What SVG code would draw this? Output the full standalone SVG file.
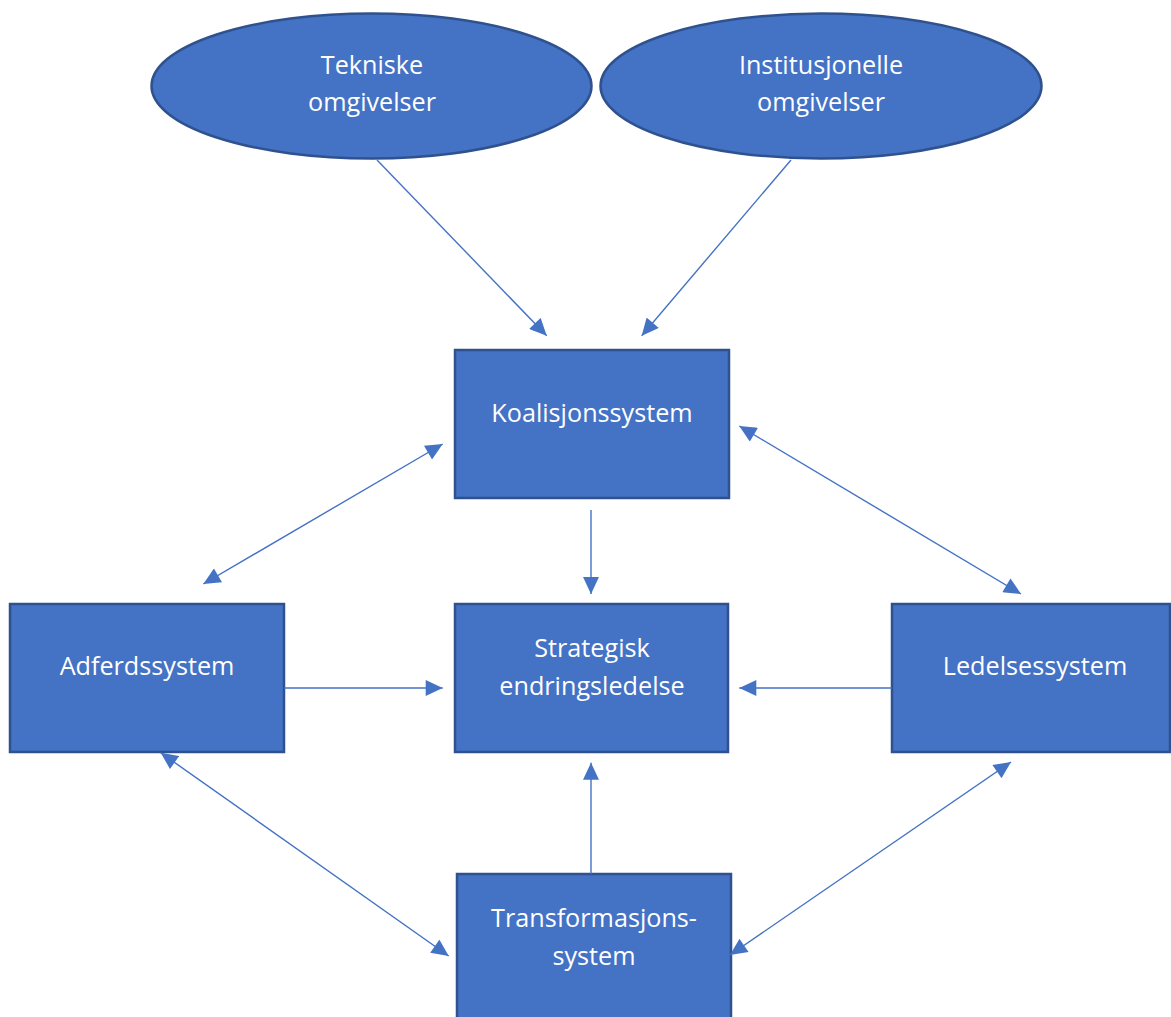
<svg xmlns="http://www.w3.org/2000/svg" width="1171" height="1017" viewBox="0 0 1171 1017">
<style>
.node{fill:#4472C4;stroke:#2F528F;stroke-width:2.5}
.lbl{font-family:"Open Sans","Noto Sans",sans-serif;font-size:25.2px;fill:#FFFFFF;text-anchor:middle}
.edge{stroke:#4472C4;stroke-width:1.4;fill:none}
</style>
<defs>
<marker id="ah" markerUnits="userSpaceOnUse" markerWidth="18" markerHeight="16" viewBox="0 0 17 16" refX="17" refY="8" orient="auto-start-reverse">
<path d="M0,0 L17,8 L0,16 z" fill="#4472C4"/>
</marker>
</defs>
<rect width="1171" height="1017" fill="#FFFFFF"/>
<g id="tekniske">
<ellipse class="node" cx="371.5" cy="86" rx="220" ry="72.5"/>
<text class="lbl" x="372" y="74">Tekniske</text>
<text class="lbl" x="372" y="111">omgivelser</text>
</g>
<g id="institusjonelle">
<ellipse class="node" cx="821" cy="86" rx="220.5" ry="72.5"/>
<text class="lbl" x="821" y="74">Institusjonelle</text>
<text class="lbl" x="821" y="111">omgivelser</text>
</g>
<g id="koalisjon">
<rect class="node" x="455" y="350" width="274" height="148"/>
<text class="lbl" x="592" y="422">Koalisjonssystem</text>
</g>
<g id="strategisk">
<rect class="node" x="455" y="604" width="273" height="148"/>
<text class="lbl" x="592" y="657">Strategisk</text>
<text class="lbl" x="592" y="695">endringsledelse</text>
</g>
<g id="adferd">
<rect class="node" x="10" y="604" width="274" height="148"/>
<text class="lbl" x="147" y="675">Adferdssystem</text>
</g>
<g id="ledelse">
<rect class="node" x="892" y="604" width="278" height="148"/>
<text class="lbl" x="1035" y="675">Ledelsessystem</text>
</g>
<g id="transformasjon">
<rect class="node" x="457" y="874" width="274" height="160"/>
<text class="lbl" x="594" y="927">Transformasjons-</text>
<text class="lbl" x="594" y="965">system</text>
</g>
<g id="connectors">
<line class="edge" x1="377" y1="160" x2="546.7" y2="335.7" marker-end="url(#ah)"/>
<line class="edge" x1="791" y1="160" x2="641.7" y2="335.7" marker-end="url(#ah)"/>
<line class="edge" x1="591" y1="510" x2="591" y2="594" marker-end="url(#ah)"/>
<line class="edge" x1="442.7" y1="444" x2="203.3" y2="584" marker-start="url(#ah)" marker-end="url(#ah)"/>
<line class="edge" x1="739.3" y1="426" x2="1021" y2="594" marker-start="url(#ah)" marker-end="url(#ah)"/>
<line class="edge" x1="284" y1="688" x2="442.7" y2="688" marker-end="url(#ah)"/>
<line class="edge" x1="892" y1="688" x2="739.3" y2="688" marker-end="url(#ah)"/>
<line class="edge" x1="591" y1="874" x2="591" y2="762.7" marker-end="url(#ah)"/>
<line class="edge" x1="160.7" y1="752.7" x2="448.7" y2="956" marker-start="url(#ah)" marker-end="url(#ah)"/>
<line class="edge" x1="1011" y1="762" x2="730" y2="955" marker-start="url(#ah)" marker-end="url(#ah)"/>
</g>
</svg>
